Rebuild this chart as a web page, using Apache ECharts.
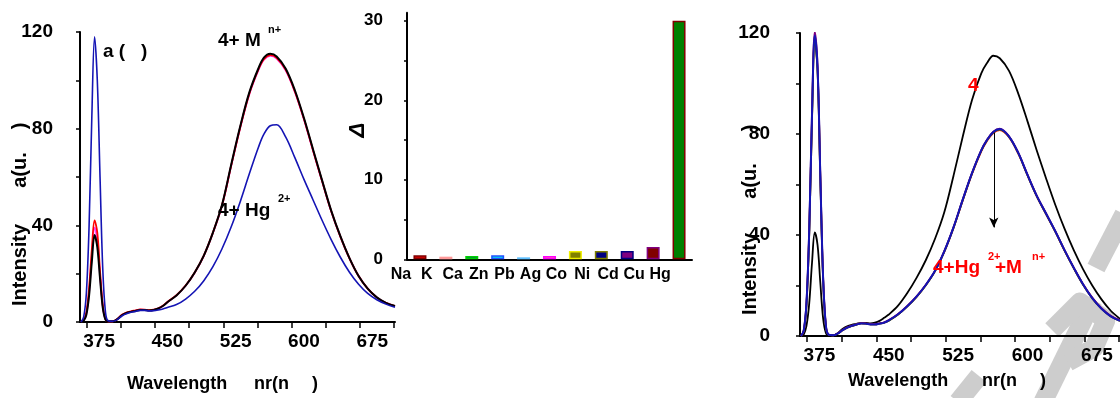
<!DOCTYPE html>
<html>
<head>
    <meta charset="utf-8">
    <title>Fluorescence spectra of 4 with metal ions</title>
    <script src="https://cdn.jsdelivr.net/npm/echarts@6/dist/echarts.min.js"></script>
    <style>
        html, body { margin: 0; padding: 0; background: #fff; }
        #chart { width: 1120px; height: 398px; }
    </style>
</head>
<body>
    <div id="chart"></div>
    <script type="text/javascript">
// wavelength grid (nm), shared by all spectra
var wl = [355, 358, 361, 364, 367, 370, 373, 376, 379, 382, 385,
          390, 395, 400, 405, 410, 415, 420, 425, 430, 435, 440, 445, 450,
          460, 470, 480, 490, 500, 510, 520, 530, 540, 550, 556, 563,
          570, 580, 590, 600, 610, 620, 630, 640, 650, 660, 670, 680, 690, 700];

// left panel: 4 + M(n+) (several nearly identical curves) and 4 + Hg2+
var leftBlack = [0, 0.5, 3, 11, 25, 36, 31, 18, 6, 1, 0.3,
                 0.3, 1.2, 2.8, 3.7, 4.2, 4.6, 5.0, 5.0, 4.8, 5.0, 5.6, 6.6, 8.2,
                 11, 15, 20.5, 27.5, 37, 48.5, 65, 81, 95, 105, 109.4, 111,
                 109.9, 104.8, 95.9, 84.4, 71.4, 58.5, 46, 35.5, 26.4, 19, 13.8, 10.2, 7.9, 6.6];
var leftRed = [0, 0.8, 4, 14, 30, 42, 37, 21, 7, 1.2, 0.3,
               0.3, 1.3, 3.0, 3.9, 4.4, 4.8, 5.2, 5.1, 4.9, 5.1, 5.7, 6.7, 8.3,
               11.1, 15.1, 20.5, 27.5, 37, 48.3, 64.6, 80.5, 94.5, 104.5, 108.8, 110.4,
               109.3, 104.3, 95.4, 84, 71, 58.2, 45.8, 35.3, 26.3, 19, 13.8, 10.2, 7.9, 6.6];
var leftPink = [0, 0.6, 3.5, 12.5, 27.5, 39, 34, 19.5, 6.5, 1.1, 0.3,
                0.3, 1.2, 2.9, 3.8, 4.3, 4.7, 5.1, 5.0, 4.8, 5.0, 5.6, 6.6, 8.2,
                11, 15, 20.4, 27.4, 36.8, 48.2, 64.5, 80.5, 94.3, 104.2, 108.5, 110.1,
                109, 104, 95.2, 83.8, 70.9, 58.1, 45.7, 35.3, 26.3, 19, 13.8, 10.2, 7.9, 6.6];
var leftBlue = [0, 2, 12, 40, 85, 118, 100, 60, 22, 4, 0.5,
                0.3, 1.0, 2.5, 3.4, 4.0, 4.4, 4.8, 4.8, 4.6, 4.7, 5.0, 5.4, 6.0,
                7.2, 9.5, 12.7, 17.1, 22.9, 30.3, 39.3, 49.8, 61.3, 72.3, 77.7, 81.2,
                81.6, 76.5, 68, 59, 50.5, 42, 34, 26.8, 20.6, 15.6, 11.8, 9.2, 7.4, 6.1];

// right panel: 4 alone and 4 + Hg2+ + M(n+)
var rightBlack = [0, 0.6, 4, 13, 29, 41, 36, 21, 7, 1.2, 0.3,
                  0.3, 1.2, 2.8, 3.8, 4.4, 4.8, 5.2, 5.2, 5.0, 5.3, 6.0, 7.2, 8.5,
                  12, 17, 23, 30, 38.5, 49, 63.5, 79, 93.5, 104, 108, 111,
                  110, 105, 96, 85, 73.5, 62.5, 52, 42.5, 34, 26.5, 20, 14.5, 10, 6.8];
var rightRed = [0, 1.8, 12, 41, 86, 118, 105, 62, 22.5, 3.8, 0.5,
                0.3, 1.0, 2.3, 3.3, 4.0, 4.5, 5.0, 4.9, 4.6, 4.6, 4.9, 5.3, 6.1,
                8.5, 11.7, 15.5, 20.1, 25.7, 33.3, 42.8, 53.7, 64.2, 73.1, 77.1, 80.4,
                81.5, 78.7, 72.2, 63.6, 55.3, 48.3, 41.3, 33.8, 26.9, 20.4, 15, 10.8, 7.8, 6];
var rightGreen = [0, 2, 12.5, 41, 86, 117, 105, 62, 22.5, 3.8, 0.5,
                  0.3, 1.0, 2.3, 3.3, 4.0, 4.5, 5.0, 4.9, 4.6, 4.6, 4.9, 5.3, 6.1,
                  8.5, 11.7, 15.5, 20.1, 25.7, 33.4, 42.9, 53.9, 64.4, 73.4, 77.4, 80.7,
                  81.8, 78.9, 72.4, 63.7, 55.4, 48.4, 41.4, 33.9, 26.9, 20.4, 15, 10.8, 7.8, 6];
var rightPurple = [0, 2.2, 13.5, 43, 89, 120.5, 107, 64, 23.5, 4.2, 0.5,
                   0.3, 1.1, 2.4, 3.4, 4.1, 4.6, 5.1, 5.0, 4.7, 4.7, 5.0, 5.4, 6.3,
                   8.7, 11.9, 15.7, 20.3, 25.9, 33.6, 43.1, 54.1, 64.6, 73.6, 77.6, 80.9,
                   82.1, 79.1, 72.6, 63.9, 55.6, 48.6, 41.6, 34.1, 27.1, 20.6, 15.2, 11, 8, 6.2];
var rightBlue = [0, 2, 13, 42, 88, 119, 106, 63, 23, 4, 0.5,
                 0.3, 1.0, 2.3, 3.3, 4.0, 4.5, 5.0, 4.9, 4.6, 4.6, 4.9, 5.3, 6.2,
                 8.6, 11.8, 15.6, 20.2, 25.8, 33.5, 43, 54, 64.5, 73.5, 77.5, 80.8,
                 82, 79, 72.5, 63.8, 55.5, 48.5, 41.5, 34, 27, 20.5, 15, 10.8, 7.8, 6];

// inset bar chart
var ions = ['Na', 'K', 'Ca', 'Zn', 'Pb', 'Ag', 'Co', 'Ni', 'Cd', 'Cu', 'Hg'];
var deltaI = [0.5, 0.33, 0.4, 0.5, 0.25, 0.4, 1.05, 1.05, 1.05, 1.55, 30];

// tick labels
var xLabelVals = [375, 450, 525, 600, 675];
var xTickVals = [361.5, 399, 436.5, 474, 511.5, 549, 586.5, 624, 661.5, 699];
var yLabelVals = [0, 40, 80, 120];
var yTickVals = [0, 20, 40, 60, 80, 100, 120];
var barLabelVals = [0, 10, 20, 30];
var barTickVals = [0, 5, 10, 15, 20, 25, 30];

var barFill = ['#e00000', '#008000', '#0000c8', '#00e8e8', '#5c8cff', '#f0f000',
               '#808000', '#000080', '#800080', '#800000', '#008000'];
var barEdge = ['#800000', '#ff9a9a', '#00d000', '#2050ff', '#60c0ff', '#ff00ff',
               '#f0f000', '#808000', '#000080', '#800080', '#800000'];

var FONT = "'Liberation Sans', Arial, sans-serif";

function pairs(ys) {
    return wl.map(function (x, i) { return [x, ys[i]]; });
}

function specX(grid) {
    return {
        type: 'value', gridIndex: grid, min: 354, max: 700,
        axisLine: { onZero: false, lineStyle: { color: '#000', width: 2 } },
        axisTick: { length: 6, customValues: xTickVals, lineStyle: { color: '#000', width: 1.5 } },
        axisLabel: { customValues: xLabelVals, color: '#000', fontSize: 19, fontWeight: 'bold',
                     fontFamily: FONT, margin: 10 },
        splitLine: { show: false }
    };
}
function specY(grid, margin) {
    return {
        type: 'value', gridIndex: grid, min: 0, max: 120,
        axisLine: { show: true, onZero: false, lineStyle: { color: '#000', width: 2 } },
        axisTick: { show: true, length: 4, customValues: yTickVals, lineStyle: { color: '#000', width: 1.5 } },
        axisLabel: { customValues: yLabelVals, color: '#000', fontSize: 19, fontWeight: 'bold',
                     fontFamily: FONT, margin: margin },
        splitLine: { show: false }
    };
}
function line(name, grid, ys, color, width) {
    return {
        type: 'line', name: name, xAxisIndex: grid, yAxisIndex: grid,
        data: pairs(ys), showSymbol: false, symbol: 'none',
        smooth: 0.35, silent: true,
        lineStyle: { color: color, width: width || 1.8 }
    };
}

var chart = echarts.init(document.getElementById('chart'), null, { renderer: 'canvas' });

var barData = deltaI.map(function (v, i) {
    return { value: v, itemStyle: { color: barFill[i], borderColor: barEdge[i], borderWidth: 1.5 } };
});

var arrowSeries = line('4+Hg+M blue', 2, rightBlue, '#1414b4', 2);
arrowSeries.markLine = {
    silent: true, symbol: ['none', 'arrow'], symbolSize: [7, 10],
    label: { show: false },
    lineStyle: { color: '#000', width: 1, type: 'solid' },
    data: [[{ coord: [563.5, 80.5] }, { coord: [563.5, 43] }]]
};

function txt(x, y, s, size, color) {
    return {
        type: 'text', x: x, y: y, z: 50, silent: true,
        style: { text: s, fill: color || '#000', fontSize: size, fontWeight: 'bold', fontFamily: FONT,
                 textAlign: 'left', textVerticalAlign: 'middle' }
    };
}
function vtxt(x, y, s, size) {
    return {
        type: 'text', x: x, y: y, z: 50, silent: true, rotation: Math.PI / 2,
        style: { text: s, fill: '#000', fontSize: size, fontWeight: 'bold', fontFamily: FONT,
                 textAlign: 'center', textVerticalAlign: 'middle' }
    };
}
function wm(points) {
    return { type: 'polyline', z: -10, silent: true, shape: { points: points },
             style: { stroke: '#cdcdcd', lineWidth: 19, fill: null, lineCap: 'butt', lineJoin: 'round' } };
}

var option = {
    animation: false,
    backgroundColor: '#fff',
    textStyle: { fontFamily: FONT },
    grid: [
        { left: 80, top: 32, width: 315, height: 290 },
        { left: 407, top: 12.8, width: 285, height: 246.5 },
        { left: 800, top: 33, width: 324, height: 303 }
    ],
    xAxis: [
        specX(0),
        {
            type: 'category', gridIndex: 1, data: ions,
            axisLine: { lineStyle: { color: '#000', width: 2 } },
            axisTick: { interval: 0, length: 5, lineStyle: { color: '#000', width: 1.5 } },
            axisLabel: { interval: 0, color: '#000', fontSize: 16, fontWeight: 'bold', fontFamily: FONT,
                         margin: 7, padding: [0, 38, 0, 0] }
        },
        specX(2),
        {
            type: 'category', gridIndex: 1, data: ions,
            axisLine: { show: false },
            axisTick: { interval: 0, alignWithLabel: true, length: 5, lineStyle: { color: '#000', width: 1.5 } },
            axisLabel: { show: false }
        }
    ],
    yAxis: [
        specY(0, 27),
        {
            type: 'value', gridIndex: 1, min: 0, max: 31,
            axisLine: { show: true, lineStyle: { color: '#000', width: 2 } },
            axisTick: { show: true, length: 3, customValues: barTickVals, lineStyle: { color: '#000', width: 1.5 } },
            axisLabel: { customValues: barLabelVals, color: '#000', fontSize: 17, fontWeight: 'bold',
                         fontFamily: FONT, margin: 24 },
            splitLine: { show: false }
        },
        specY(2, 30)
    ],
    series: [
        line('4+M pink', 0, leftPink, '#ff40ff', 1.8),
        line('4+M red', 0, leftRed, '#ff0000', 1.8),
        line('4+M black', 0, leftBlack, '#000000', 2),
        line('4+Hg', 0, leftBlue, '#1414b4', 1.6),
        {
            type: 'bar', xAxisIndex: 1, yAxisIndex: 1, data: barData, barWidth: 13, silent: true
        },
        line('4', 2, rightBlack, '#000000', 1.8),
        line('4+Hg+M red', 2, rightRed, '#ff2000', 1.8),
        line('4+Hg+M green', 2, rightGreen, '#008000', 1.8),
        line('4+Hg+M purple', 2, rightPurple, '#800080', 1.8),
        arrowSeries
    ],
    graphic: [
        // watermark fragments
        wm([[1043, 402], [1093, 300]]),
        wm([[1052, 330], [1080, 302], [1106, 320], [1094, 348], [1068, 362]]),
        wm([[1096, 268], [1124, 214]]),
        wm([[958, 402], [979, 376]]),

        // left panel texts
        txt(103, 52, 'a (   )', 19),
        txt(218, 41, '4+ M', 19),
        txt(268, 30, 'n+', 11),
        txt(218, 211, '4+ Hg', 19),
        txt(278, 199, '2+', 11),
        vtxt(20, 265, 'Intensity', 20),
        vtxt(20, 170, 'a(u.', 20),
        vtxt(20, 126, ')', 20),
        txt(127, 384, 'Wavelength', 18),
        txt(254, 384, 'nr(n', 18),
        txt(312, 384, ')', 18),

        // inset
        {
            type: 'text', x: 358, y: 130, z: 50, silent: true, rotation: Math.PI / 2,
            style: { text: 'Δ', fill: '#000', fontSize: 22, fontWeight: 'bold', fontStyle: 'italic',
                     fontFamily: FONT, textAlign: 'center', textVerticalAlign: 'middle' }
        },

        // right panel texts
        txt(968, 86, '4', 19, '#ff0000'),
        txt(933, 268, '4+Hg', 19, '#ff0000'),
        txt(988, 257, '2+', 11, '#ff0000'),
        txt(995, 268, '+M', 19, '#ff0000'),
        txt(1032, 257, 'n+', 11, '#ff0000'),
        vtxt(750, 274, 'Intensity', 20),
        vtxt(750, 181, 'a(u.', 20),
        vtxt(750, 128, ')', 20),
        txt(848, 381, 'Wavelength', 18),
        txt(982, 381, 'nr(n', 18),
        txt(1040, 381, ')', 18)
    ]
};

chart.setOption(option);
    </script>
</body>
</html>
